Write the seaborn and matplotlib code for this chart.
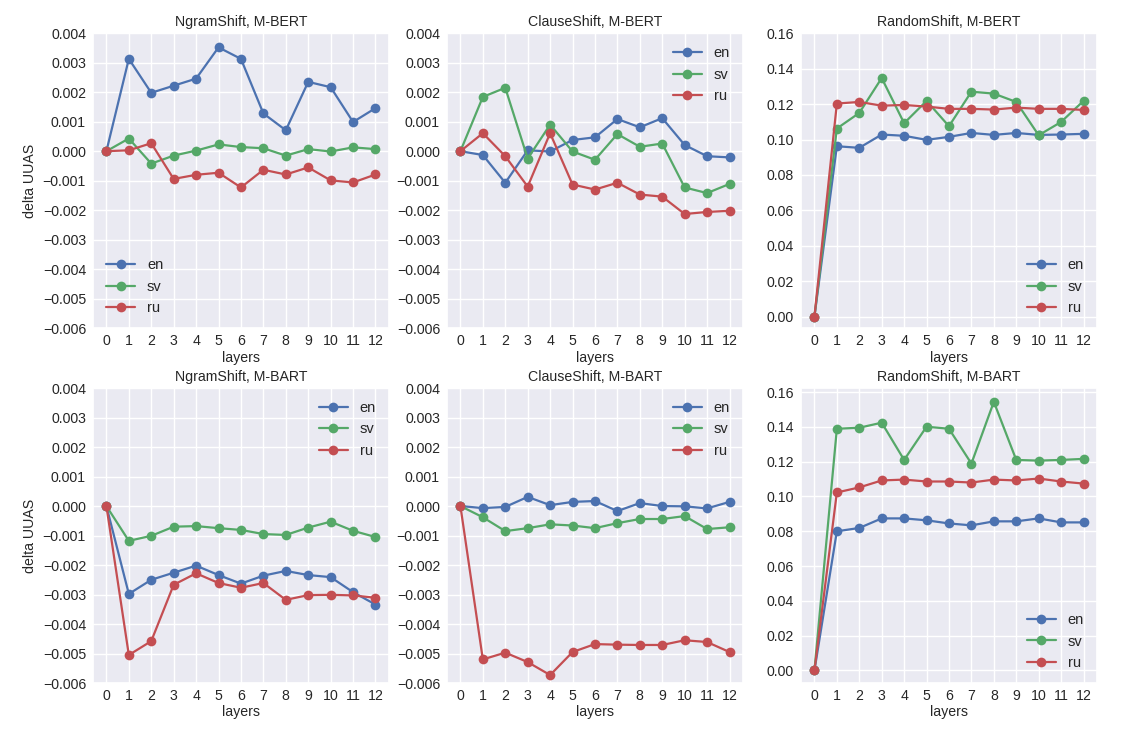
import numpy as np
import pandas as pd
import matplotlib
matplotlib.use("Agg")
import matplotlib.pyplot as plt
import seaborn as sns

layers = list(range(13))
langs = ["en", "sv", "ru"]

# NgramShift, M-BERT
ngram_bert_en = [0, 0.00313, 0.00198, 0.00222, 0.00246, 0.00352, 0.00313, 0.00128, 0.00071, 0.00235, 0.00217, 0.00099, 0.00146]
ngram_bert_sv = [0, 0.00043, -0.00042, -0.00015, 0.00002, 0.00023, 0.00014, 0.00010, -0.00015, 0.00007, -0.00001, 0.00013, 0.00007]
ngram_bert_ru = [0, 0.00003, 0.00027, -0.00094, -0.00080, -0.00073, -0.00123, -0.00063, -0.00079, -0.00055, -0.00099, -0.00106, -0.00079]

# ClauseShift, M-BERT
clause_bert_en = [0, -0.00013, -0.00107, 0.00003, -0.00001, 0.00038, 0.00047, 0.00109, 0.00081, 0.00112, 0.00021, -0.00017, -0.00021]
clause_bert_sv = [0, 0.00184, 0.00215, -0.00025, 0.00090, -0.00001, -0.00029, 0.00058, 0.00015, 0.00026, -0.00123, -0.00142, -0.00111]
clause_bert_ru = [0, 0.00061, -0.00017, -0.00120, 0.00061, -0.00113, -0.00130, -0.00107, -0.00147, -0.00154, -0.00213, -0.00206, -0.00202]

# RandomShift, M-BERT
random_bert_en = [0, 0.0962, 0.0953, 0.1028, 0.1021, 0.0998, 0.1015, 0.1037, 0.1026, 0.1037, 0.1026, 0.1028, 0.1032]
random_bert_sv = [0, 0.1062, 0.1150, 0.1347, 0.1092, 0.1218, 0.1075, 0.1270, 0.1259, 0.1212, 0.1024, 0.1099, 0.1218]
random_bert_ru = [0, 0.1203, 0.1212, 0.1191, 0.1195, 0.1186, 0.1173, 0.1173, 0.1169, 0.1180, 0.1173, 0.1173, 0.1167]

# NgramShift, M-BART
ngram_bart_en = [0, -0.00298, -0.00250, -0.00226, -0.00202, -0.00234, -0.00263, -0.00236, -0.00220, -0.00234, -0.00241, -0.00292, -0.00334]
ngram_bart_sv = [0, -0.00118, -0.00101, -0.00070, -0.00068, -0.00075, -0.00081, -0.00095, -0.00098, -0.00073, -0.00053, -0.00084, -0.00105]
ngram_bart_ru = [0, -0.00505, -0.00458, -0.00267, -0.00228, -0.00261, -0.00277, -0.00261, -0.00318, -0.00302, -0.00301, -0.00303, -0.00311]

# ClauseShift, M-BART
clause_bart_en = [0, -0.00007, -0.00003, 0.00031, 0.00003, 0.00014, 0.00017, -0.00017, 0.00010, 0.00000, -0.00001, -0.00008, 0.00014]
clause_bart_sv = [0, -0.00038, -0.00085, -0.00075, -0.00062, -0.00066, -0.00075, -0.00058, -0.00044, -0.00044, -0.00034, -0.00078, -0.00072]
clause_bart_ru = [0, -0.00520, -0.00497, -0.00529, -0.00573, -0.00495, -0.00468, -0.00470, -0.00471, -0.00471, -0.00455, -0.00461, -0.00495]

# RandomShift, M-BART
random_bart_en = [0, 0.0800, 0.0819, 0.0874, 0.0874, 0.0863, 0.0845, 0.0834, 0.0857, 0.0857, 0.0874, 0.0851, 0.0851]
random_bart_sv = [0, 0.1389, 0.1395, 0.1424, 0.1210, 0.1401, 0.1389, 0.1189, 0.1544, 0.1210, 0.1206, 0.1210, 0.1216]
random_bart_ru = [0, 0.1023, 0.1052, 0.1092, 0.1097, 0.1086, 0.1086, 0.1080, 0.1097, 0.1092, 0.1103, 0.1086, 0.1074]

panels = [
    ("NgramShift, M-BERT", [ngram_bert_en, ngram_bert_sv, ngram_bert_ru], "lower left"),
    ("ClauseShift, M-BERT", [clause_bert_en, clause_bert_sv, clause_bert_ru], "upper right"),
    ("RandomShift, M-BERT", [random_bert_en, random_bert_sv, random_bert_ru], "lower right"),
    ("NgramShift, M-BART", [ngram_bart_en, ngram_bart_sv, ngram_bart_ru], "upper right"),
    ("ClauseShift, M-BART", [clause_bart_en, clause_bart_sv, clause_bart_ru], "upper right"),
    ("RandomShift, M-BART", [random_bart_en, random_bart_sv, random_bart_ru], "lower right"),
]

sns.set_theme(style="darkgrid", context="notebook")
plt.rcParams["font.family"] = ["Liberation Sans", "DejaVu Sans"]
plt.rcParams["xtick.major.size"] = 0
plt.rcParams["ytick.major.size"] = 0
plt.rcParams["xtick.major.pad"] = 4
plt.rcParams["ytick.major.pad"] = 5

fig, axes = plt.subplots(2, 3, figsize=(11.28, 7.38), dpi=100)
fig.subplots_adjust(left=0.0824, right=0.9725, top=0.955, bottom=0.0745,
                    wspace=0.196, hspace=0.203)
colors = ["#4C72B0", "#55A868", "#C44E52"]

for idx, (ax, (title, series, loc)) in enumerate(zip(axes.flat, panels)):
    for i, (lang, vals) in enumerate(zip(langs, series)):
        sns.lineplot(x=layers, y=vals, ax=ax, color=colors[i], marker="o",
                     markersize=7, markeredgewidth=0, linewidth=1.6, label=lang)
    ax.set_title(title, fontsize=10.2, pad=5)
    ax.set_xticks(layers)
    ax.set_xticklabels([str(l) for l in layers])
    ax.set_xlabel("layers", fontsize=10.2, labelpad=2)
    ax.tick_params(labelsize=10.2)
    col = idx % 3
    if col < 2:
        ax.set_ylim(-0.006, 0.004)
        ticks = np.arange(-0.006, 0.0041, 0.001)
        ax.set_yticks(ticks)
        ax.set_yticklabels([f"{v:.3f}".replace("-", "\u2212") for v in ticks])
    else:
        ticks = np.arange(0, 0.161, 0.02)
        ax.set_yticks(ticks)
        ax.set_yticklabels([f"{v:.2f}" for v in ticks])
        if idx == 2:
            ax.set_ylim(-0.0065, 0.16)
        else:
            ax.set_ylim(-0.0072, 0.1623)
    if col == 0:
        ax.set_ylabel("delta UUAS", fontsize=10.2)
    else:
        ax.set_ylabel("")
    ax.legend(loc=loc, fontsize=10.5, frameon=False)

fig.savefig("out.png", dpi=100)
